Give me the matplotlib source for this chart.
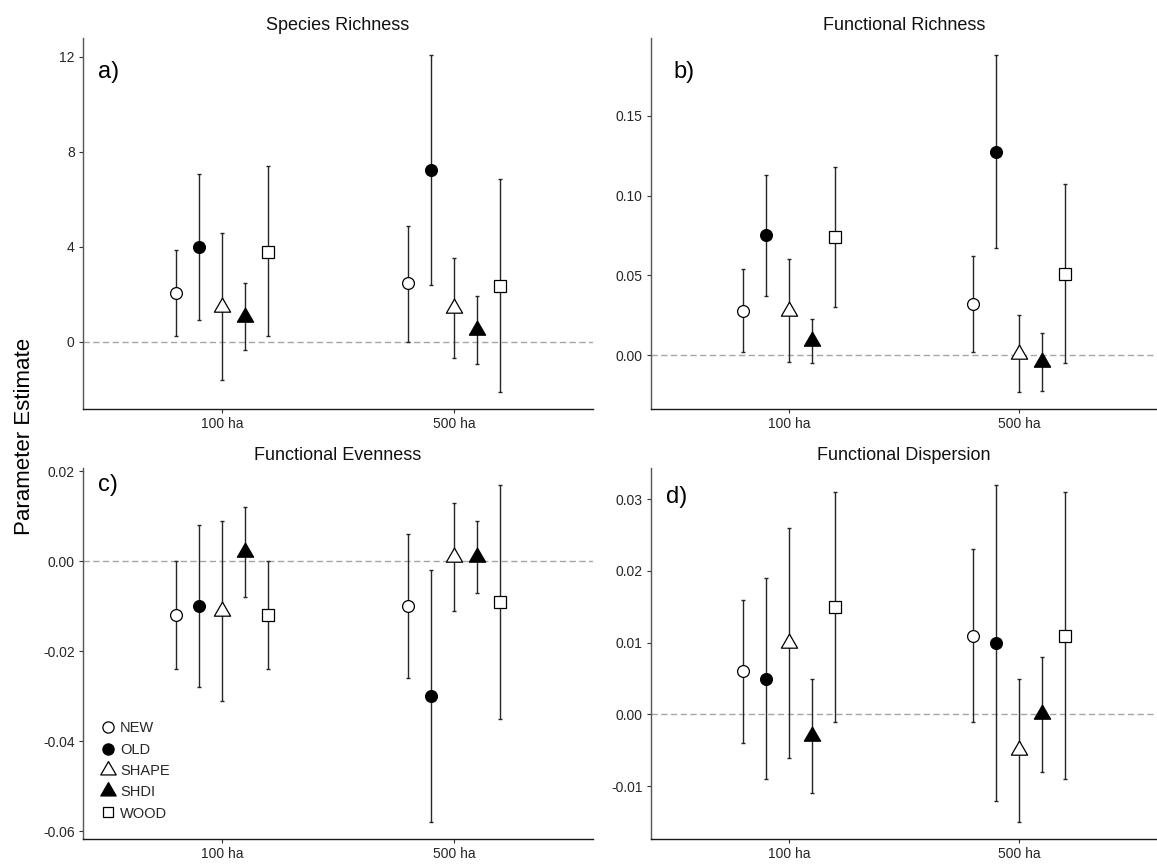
import matplotlib
matplotlib.use("Agg")
import matplotlib.pyplot as plt
from matplotlib.path import Path
from matplotlib.markers import MarkerStyle
from matplotlib.lines import Line2D
from matplotlib.ticker import FormatStrFormatter, FixedLocator
import numpy as np

plt.rcParams['font.family'] = ['Liberation Sans', 'DejaVu Sans']

categories = ['100 ha', '500 ha']
series = ['NEW', 'OLD', 'SHAPE', 'SHDI', 'WOOD']

# Species Richness
sr_est_100 = [2.05, 4.00, 1.48, 1.06, 3.80]
sr_lo_100 = [0.25, 0.94, -1.58, -0.32, 0.25]
sr_hi_100 = [3.88, 7.05, 4.57, 2.46, 7.39]
sr_est_500 = [2.46, 7.21, 1.44, 0.50, 2.37]
sr_lo_500 = [0.00, 2.40, -0.68, -0.92, -2.11]
sr_hi_500 = [4.89, 12.07, 3.55, 1.93, 6.87]

# Functional Richness
fr_est_100 = [0.028, 0.075, 0.028, 0.009, 0.074]
fr_lo_100 = [0.002, 0.037, -0.004, -0.005, 0.030]
fr_hi_100 = [0.054, 0.113, 0.060, 0.023, 0.118]
fr_est_500 = [0.032, 0.127, 0.001, -0.004, 0.051]
fr_lo_500 = [0.002, 0.067, -0.023, -0.022, -0.005]
fr_hi_500 = [0.062, 0.188, 0.025, 0.014, 0.107]

# Functional Evenness
fe_est_100 = [-0.012, -0.010, -0.011, 0.002, -0.012]
fe_lo_100 = [-0.024, -0.028, -0.031, -0.008, -0.024]
fe_hi_100 = [0.000, 0.008, 0.009, 0.012, 0.000]
fe_est_500 = [-0.010, -0.030, 0.001, 0.001, -0.009]
fe_lo_500 = [-0.026, -0.058, -0.011, -0.007, -0.035]
fe_hi_500 = [0.006, -0.002, 0.013, 0.009, 0.017]

# Functional Dispersion
fd_est_100 = [0.006, 0.005, 0.010, -0.003, 0.015]
fd_lo_100 = [-0.004, -0.009, -0.006, -0.011, -0.001]
fd_hi_100 = [0.016, 0.019, 0.026, 0.005, 0.031]
fd_est_500 = [0.011, 0.010, -0.005, 0.000, 0.011]
fd_lo_500 = [-0.001, -0.012, -0.015, -0.008, -0.009]
fd_hi_500 = [0.023, 0.032, 0.005, 0.008, 0.031]

titles = ['Species Richness', 'Functional Richness', 'Functional Evenness', 'Functional Dispersion']
panel_tags = ['a)', 'b)', 'c)', 'd)']
yticks_list = [[0, 4, 8, 12], [0.00, 0.05, 0.10, 0.15],
               [-0.06, -0.04, -0.02, 0.00, 0.02], [-0.01, 0.00, 0.01, 0.02, 0.03]]
yfmt = ['%d', '%.2f', '%.2f', '%.2f']

panels = [
    (sr_est_100, sr_lo_100, sr_hi_100, sr_est_500, sr_lo_500, sr_hi_500),
    (fr_est_100, fr_lo_100, fr_hi_100, fr_est_500, fr_lo_500, fr_hi_500),
    (fe_est_100, fe_lo_100, fe_hi_100, fe_est_500, fe_lo_500, fe_hi_500),
    (fd_est_100, fd_lo_100, fd_hi_100, fd_est_500, fd_lo_500, fd_hi_500),
]

# triangle with centroid at origin (like R pch 24)
tri = MarkerStyle(Path([(0, 1), (-0.866, -0.5), (0.866, -0.5), (0, 1)],
                       [Path.MOVETO, Path.LINETO, Path.LINETO, Path.CLOSEPOLY]))
styles = {
    'NEW': dict(marker='o', mfc='white', ms=8.5),
    'OLD': dict(marker='o', mfc='black', ms=8.5),
    'SHAPE': dict(marker=tri, mfc='white', ms=13.5),
    'SHDI': dict(marker=tri, mfc='black', ms=13.5),
    'WOOD': dict(marker='s', mfc='white', ms=8.0),
}
offsets = [-0.2, -0.1, 0.0, 0.1, 0.2]

W, H = 1157, 866
fig = plt.figure(figsize=(W / 100, H / 100), dpi=100)

boxes = [(83, 593, 38, 409), (651, 1157, 38, 409),
         (83, 593, 468, 839), (651, 1157, 468, 839)]

tag_pos = [(98, 72), (673, 72), (98, 485), (666, 497)]

axes = []
for i, (l, r, t, b) in enumerate(boxes):
    ax = fig.add_axes([l / W, 1 - b / H, (r - l) / W, (b - t) / H])
    axes.append(ax)
    est100, lo100, hi100, est500, lo500, hi500 = panels[i]
    xc = np.arange(1, len(categories) + 1)
    for j, s in enumerate(series):
        ests = np.array([est100[j], est500[j]])
        los = np.array([lo100[j], lo500[j]])
        his = np.array([hi100[j], hi500[j]])
        xs = xc + offsets[j]
        ax.errorbar(xs, ests, yerr=[ests - los, his - ests], fmt='none',
                    ecolor='#262626', elinewidth=1.0, capsize=1.7, capthick=1.0, zorder=2)
        st = styles[s]
        ax.plot(xs, ests, linestyle='none', marker=st['marker'], markersize=st['ms'],
                markerfacecolor=st['mfc'], markeredgecolor='black', markeredgewidth=0.9,
                zorder=3, label=s)
    ax.axhline(0, color='#a6a6a6', linestyle=(0, (4.5, 2.5)), linewidth=1.0, zorder=1)
    ax.set_xlim(0.4, 2.6)
    ax.margins(y=0.05)
    ax.set_xticks(xc)
    ax.set_xticklabels(categories)
    ax.yaxis.set_major_locator(FixedLocator(yticks_list[i]))
    ax.yaxis.set_major_formatter(FormatStrFormatter(yfmt[i]))
    for side in ['top', 'right']:
        ax.spines[side].set_visible(False)
    ax.spines['left'].set_color('#555555')
    ax.spines['bottom'].set_color('#1a1a1a')
    ax.spines['left'].set_linewidth(1.0)
    ax.spines['bottom'].set_linewidth(1.0)
    ax.tick_params(axis='both', length=3, width=0.8, color='#333333',
                   labelsize=10, labelcolor='#262626')
    ax.tick_params(axis='y', pad=3)
    ax.tick_params(axis='x', pad=3)
    ax.set_title(titles[i], fontsize=13, pad=6, color='#111111')
    tx, ty = tag_pos[i]
    fig.text(tx / W, 1 - ty / H, panel_tags[i], fontsize=17, ha='left', va='center')

# legend in panel c
handles = [Line2D([], [], linestyle='none', marker=styles[s]['marker'],
                  markersize=styles[s]['ms'] * 0.95, markerfacecolor=styles[s]['mfc'],
                  markeredgecolor='black', markeredgewidth=0.9) for s in series]
axes[2].legend(handles, series, loc='lower left', bbox_to_anchor=(0.027, 0.038),
               frameon=False, fontsize=10.5, handlelength=1.0, handletextpad=0.3,
               labelspacing=0.5, borderaxespad=0.0, borderpad=0.3,
               labelcolor='#262626')

fig.text(25 / W, 1 - 436 / H, 'Parameter Estimate', rotation=90, fontsize=16,
         ha='center', va='center')

fig.savefig('out.png', dpi=100)
